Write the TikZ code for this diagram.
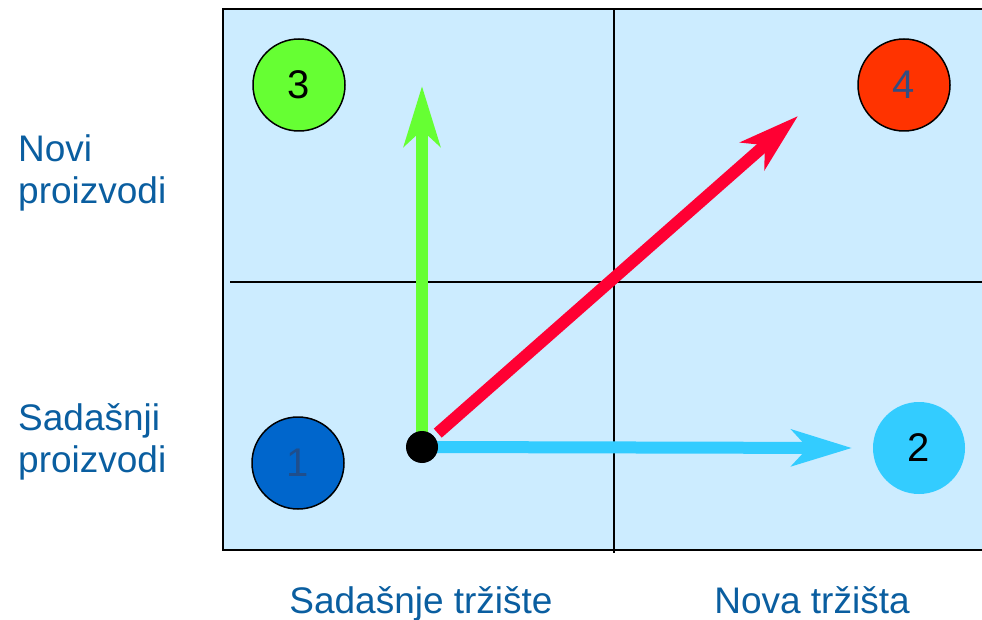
\documentclass[tikz,border=0pt]{standalone}
\usepackage{fontspec}
\setmainfont{Liberation Sans}
\usetikzlibrary{arrows.meta,backgrounds}
\definecolor{bgblue}{RGB}{204,236,255}
\definecolor{lblue}{RGB}{10,94,160}
\definecolor{cgreen}{RGB}{102,255,51}
\definecolor{cred}{RGB}{255,0,51}
\definecolor{ccyan}{RGB}{51,204,255}
\definecolor{corange}{RGB}{255,51,0}
\definecolor{cdark}{RGB}{0,102,204}
\definecolor{numone}{RGB}{31,78,140}
\definecolor{numfour}{RGB}{51,77,128}
\begin{document}
\begin{tikzpicture}[x=1pt,y=-1pt,
  gridline/.style={draw=black,line width=1.5pt},
  lbl/.style={font=\fontsize{37}{42}\selectfont,text=lblue,inner sep=0pt},
  num/.style={circle,minimum size=92pt,inner sep=0pt,font=\fontsize{40}{48}\selectfont},
  ringed/.style={draw=black,line width=1.5pt},
  bigarrow/.style={line width=12pt,-{Stealth[length=60pt,width=36pt,inset=16pt]}},
]
\clip (0,0) rectangle (982,620);
% circles
\node[num,ringed,fill=cgreen] (c3) at (299,85) {3};
\node[num,ringed,fill=corange,text=numfour] (c4) at (904,85) {4};
\node[num,ringed,fill=cdark,text=numone] (c1) at (298,463) {1};
\node[num,fill=ccyan] (c2) at (919,448) {2};
\node[circle,fill=black,minimum size=32pt,inner sep=0pt,outer sep=0pt] (dot) at (422,447) {};
\coordinate (tg) at (422,86);
\coordinate (tr) at (798,116);
\coordinate (tb) at (852,448);
\begin{scope}[on background layer]
  \fill[bgblue] (223,9) rectangle (1000,550);
  \draw[gridline] (1000,9) -- (223,9) -- (223,550) -- (1000,550);
  \draw[gridline] (614,9) -- (614,553);
  \draw[gridline] (230,282) -- (1000,282);
  \draw[bigarrow,cgreen] (dot.center) -- (tg);
  \draw[bigarrow,cred,shorten <=5pt] (dot) -- (tr);
  \draw[bigarrow,ccyan] (dot.center) -- (tb);
\end{scope}
% labels
\node[lbl,anchor=west,align=left] (np) at (18,173) {Novi\\proizvodi};
\node[lbl,anchor=west,align=left] (sp) at (18,442) {Sadašnji\\proizvodi};
\node[lbl,anchor=base] (st) at (421,613) {Sadašnje tržište};
\node[lbl,anchor=base] (nt) at (812,613) {Nova tržišta};
\end{tikzpicture}
\end{document}
